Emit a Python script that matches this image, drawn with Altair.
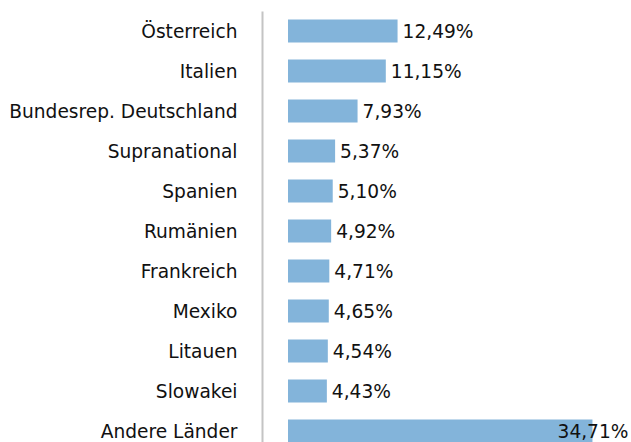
import altair as alt
import pandas as pd

countries = ["Österreich", "Italien", "Bundesrep. Deutschland", "Supranational", "Spanien",
             "Rumänien", "Frankreich", "Mexiko", "Litauen", "Slowakei", "Andere Länder"]
shares = [12.49, 11.15, 7.93, 5.37, 5.10, 4.92, 4.71, 4.65, 4.54, 4.43, 34.71]

df = pd.DataFrame({
    "country": countries,
    "share": shares,
    "label": [f"{v:.2f}".replace(".", ",") + "%" for v in shares],
    "last": [c == countries[-1] for c in countries],
})

FONT = "DejaVu Sans"
FS = 18.6

y = alt.Y("country:N", sort=countries,
          scale=alt.Scale(paddingInner=0.425, paddingOuter=0.2125),
          axis=alt.Axis(title=None, offset=26, ticks=False, labelPadding=25, labelLimit=400,
                        domainColor="#c4c4c4", domainWidth=2, labelOffset=1,
                        labelFont=FONT, labelFontSize=FS, labelColor="#111111"))
x = alt.X("share:Q", scale=alt.Scale(domain=[0, 35], nice=False), axis=None)

base = alt.Chart(df)

bars = base.mark_bar(color="#83b4da").encode(x=x, y=y)

labels = base.transform_filter("!datum.last").mark_text(
    align="left", baseline="middle", dx=5, dy=1, font=FONT, fontSize=FS, color="#111111"
).encode(x=x, y=y, text="label:N")

last_label = base.transform_filter("datum.last").mark_text(
    align="right", baseline="middle", dx=36, dy=1, font=FONT, fontSize=FS, color="#111111"
).encode(x=x, y=y, text="label:N")

chart = alt.layer(bars, labels, last_label).properties(
    width=307, height=440,
    autosize=alt.AutoSizeParams(type="none"),
    padding={"left": 288, "top": 11, "right": 36, "bottom": 0},
).configure(background="white").configure_view(strokeWidth=0, stroke=None)

chart.save("out.html", embed_options={"renderer": "svg", "actions": False})
